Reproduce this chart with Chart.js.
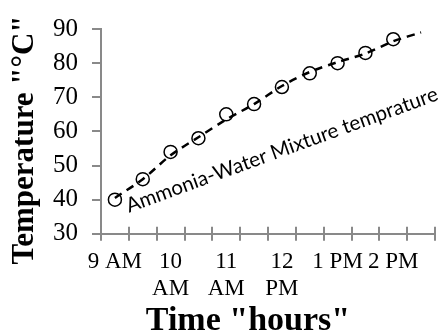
<!DOCTYPE html>
<html>
<head>
<meta charset="utf-8">
<script src="https://cdn.jsdelivr.net/npm/chart.js@4"></script>
<style>
  html, body { margin: 0; padding: 0; background: #fff; }
  #wrap { width: 443px; height: 332px; }
</style>
</head>
<body>
<div id="wrap"><canvas id="chart"></canvas></div>
<script>
// ---------------------------
// data
// ---------------------------
const categories = ['9:00', '9:30', '10:00', '10:30', '11:00', '11:30', '12:00', '12:30', '13:00', '13:30', '14:00', '14:30'];
const tickLabels = ['9 AM', '', ['10', 'AM'], '', ['11', 'AM'], '', ['12', 'PM'], '', '1 PM', '', '2 PM', ''];
const mixtureTemp = [40, 46, 54, 58, 65, 68, 73, 77, 80, 83, 87];
const trendTemp = [40.5, 46, 53, 58.3, 63.5, 68, 73.3, 77.4, 80.3, 82.8, 86.4, 89];
const yMin = 30, yMax = 90, yStep = 10;
const seriesLabel = 'Ammonia-Water Mixture temprature';
const xTitle = 'Time "hours"';
const yTitle = 'Temperature "°C"';

const axisGray = '#898989';
const serif = 'Liberation Serif';

// ---------------------------
// small plugins: inner half of x ticks, titles, series label
// ---------------------------
const innerTicks = {
  id: 'innerTicks',
  beforeDatasetsDraw(chart) {
    const xs = chart.scales.x;
    const ctx = chart.ctx;
    const w = (xs.right - xs.left) / categories.length;
    ctx.save();
    ctx.strokeStyle = axisGray;
    ctx.lineWidth = 2;
    for (let i = 0; i <= categories.length; i++) {
      const px = Math.round(xs.left + i * w);
      ctx.beginPath();
      ctx.moveTo(px, xs.top - 7);
      ctx.lineTo(px, xs.top);
      ctx.stroke();
    }
    ctx.restore();
  }
};

const textBits = {
  id: 'textBits',
  afterDraw(chart) {
    const ctx = chart.ctx;
    const xs = chart.scales.x, ys = chart.scales.y;
    ctx.save();
    ctx.fillStyle = '#000';

    // x axis title
    ctx.font = `bold 34px "${serif}"`;
    ctx.textAlign = 'center';
    ctx.textBaseline = 'alphabetic';
    ctx.fillText(xTitle, 248, 330);

    // y axis title
    ctx.save();
    ctx.translate(33, 140);
    ctx.rotate(-Math.PI / 2);
    ctx.font = `bold 31px "${serif}"`;
    ctx.fillText(yTitle, 0, 0);
    ctx.restore();

    // series label along the line
    ctx.save();
    ctx.translate(xs.getPixelForValue(0) + 14, ys.getPixelForValue(36.2));
    ctx.rotate(-20 * Math.PI / 180);
    ctx.font = '20.5px Lato';
    ctx.textAlign = 'left';
    ctx.fillText(seriesLabel, 0, 0);
    ctx.restore();

    ctx.restore();
  }
};

// ---------------------------
// chart
// ---------------------------
new Chart(document.getElementById('chart'), {
  type: 'line',
  data: {
    labels: categories,
    datasets: [
      {
        label: 'trend',
        data: trendTemp,
        borderColor: '#000',
        borderWidth: 2.5,
        borderDash: [8, 6],
        pointRadius: 0,
        tension: 0.3,
        fill: false,
        order: 2
      },
      {
        label: seriesLabel,
        data: mixtureTemp,
        showLine: false,
        pointRadius: 6.5,
        pointBorderWidth: 1.5,
        pointBorderColor: '#000',
        pointBackgroundColor: 'rgba(0,0,0,0)',
        order: 1
      }
    ]
  },
  options: {
    responsive: true,
    maintainAspectRatio: false,
    animation: false,
    layout: { padding: { left: 39, top: 20, right: 0, bottom: 22 } },
    plugins: {
      legend: { display: false },
      tooltip: { enabled: false },
      title: { display: false }
    },
    scales: {
      x: {
        type: 'category',
        offset: true,
        grid: {
          offset: true,
          drawOnChartArea: false,
          drawTicks: true,
          tickLength: 7,
          color: axisGray,
          lineWidth: 2
        },
        border: { color: axisGray, width: 2 },
        ticks: {
          autoSkip: false,
          maxRotation: 0,
          minRotation: 0,
          padding: 7,
          color: '#000',
          font: { family: serif, size: 23, lineHeight: 1.2 },
          callback: (v, i) => tickLabels[i]
        }
      },
      y: {
        min: yMin,
        max: yMax,
        grid: {
          drawOnChartArea: false,
          drawTicks: true,
          tickLength: 9,
          color: axisGray,
          lineWidth: 2
        },
        border: { color: axisGray, width: 2 },
        ticks: {
          stepSize: yStep,
          padding: 14,
          color: '#000',
          font: { family: serif, size: 25 }
        }
      }
    }
  },
  plugins: [innerTicks, textBits]
});
</script>
</body>
</html>
